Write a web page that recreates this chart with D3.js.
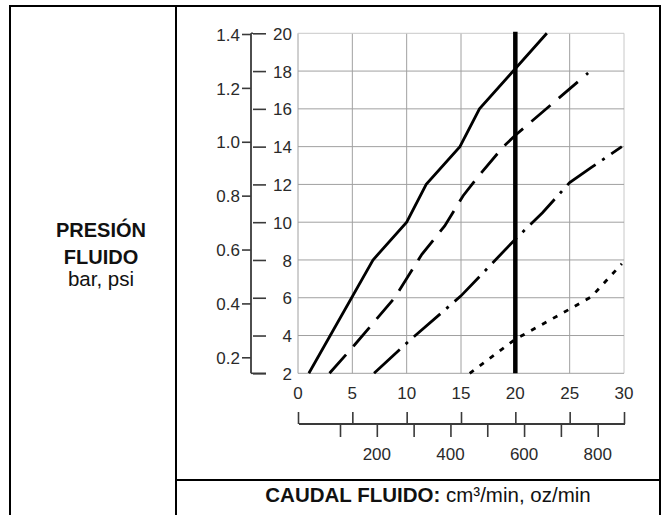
<!DOCTYPE html>
<html><head><meta charset="utf-8">
<script src="https://cdn.jsdelivr.net/npm/d3@7"></script>
<style>body{margin:0;background:#fff}svg{display:block}text{font-family:"Liberation Sans",Arial,Helvetica,sans-serif}</style>
</head><body><svg id="c" width="670" height="515"></svg>
<script>
// ---- data ----
const psiTicks = [2,4,6,8,10,12,14,16,18,20];
const barTicks = [0.2,0.4,0.6,0.8,1.0,1.2,1.4];
const ozTicks = [0,5,10,15,20,25,30];
const ccTicks = [100,200,300,400,500,600,700,800];
const ccLabels = [200,400,600,800];
const markerFlow = 20;
const solidSeries = [[1,2],[6.9,8],[10,10],[11.8,12],[14.9,14],[16.7,16],[22.9,20]];
const dashedSeries = [[2.9,2],[5.2,3.5],[8.9,6],[11.4,8.3],[13.5,9.8],[15.2,11.4],[16.7,12.5],[18.9,14],[20,14.6],[26.7,17.9]];
const dashDotSeries = [[7,2],[10.2,3.7],[15,6.1],[17.5,7.6],[20,9.1],[22.5,10.5],[25,12.1],[27,12.9],[29.8,14]];
const dottedSeries = [[15.8,2],[20,3.8],[25,5.4],[27,6.05],[29.8,7.8]];
const leftTitle = ["PRESIÓN","FLUIDO"];
const leftUnits = "bar, psi";
const bottomTitleBold = "CAUDAL FLUIDO:";
const bottomTitleRest = " cm³/min, oz/min";

// ---- drawing ----
const svg = d3.select("#c");
svg.append("rect").attr("width",670).attr("height",515).attr("fill","#fff");

const x = d3.scaleLinear().domain([0,30]).range([298,624]);
const y = d3.scaleLinear().domain([2,20]).range([373.3,33.3]);
const yBar = d3.scaleLinear().domain([0.2,1.4]).range([357.3,34]);
const cc = d3.scaleLinear().domain([100,800]).range([340,597.7]);
const tickFont = 17;

// frame
const frame = svg.append("g").attr("stroke","#000").attr("stroke-width",2).attr("fill","none");
frame.append("path").attr("d","M10,515 V6 H660 V515");
frame.append("line").attr("x1",176).attr("x2",176).attr("y1",6).attr("y2",515);
frame.append("line").attr("x1",176).attr("x2",660).attr("y1",480).attr("y2",480);

// left cell text
const lt = svg.append("g").attr("fill","#111").attr("text-anchor","middle");
leftTitle.forEach((t,i)=>lt.append("text").attr("x",101).attr("y",236.5+i*27.5)
  .attr("font-size",20).attr("font-weight","bold").text(t));
lt.append("text").attr("x",101).attr("y",286).attr("font-size",20.5).text(leftUnits);

// grid
const grid = svg.append("g").attr("stroke","#a0a0a0").attr("stroke-width",1);
grid.selectAll(".v").data(ozTicks).join("line")
  .attr("x1",d=>x(d)).attr("x2",d=>x(d)).attr("y1",y(2)).attr("y2",y(20))
  .attr("stroke",d=>d===30?"#c8c8c8":"#a0a0a0");
grid.selectAll(".h").data(psiTicks).join("line")
  .attr("x1",x(0)).attr("x2",x(30)).attr("y1",d=>y(d)).attr("y2",d=>y(d))
  .attr("stroke",d=>d===20?"#c8c8c8":"#a0a0a0");

// psi axis (right of the vertical axis line)
const axisX = 251;
const gPsi = svg.append("g").attr("transform",`translate(${axisX+2},0)`)
  .call(d3.axisRight(y).tickValues(psiTicks).tickSize(13).tickFormat(d3.format("d")));
gPsi.select(".domain").remove();
gPsi.selectAll("line").attr("stroke","#3a3a3a").attr("stroke-width",1.6);
gPsi.selectAll("text").attr("x",39).attr("dy","0.36em").attr("text-anchor","end")
  .attr("font-size",tickFont).attr("fill","#2a2a2a").attr("font-family","Liberation Sans, Arial, sans-serif");

// bar axis (left)
const gBar = svg.append("g").attr("transform",`translate(${axisX},0)`)
  .call(d3.axisLeft(yBar).tickValues(barTicks).tickSize(9).tickPadding(2).tickFormat(d3.format(".1f")));
gBar.select(".domain").remove();
gBar.selectAll("line").attr("stroke","#3a3a3a").attr("stroke-width",1.6);
gBar.selectAll("text").attr("dy","0.36em").attr("font-size",tickFont).attr("fill","#2a2a2a")
  .attr("font-family","Liberation Sans, Arial, sans-serif");
svg.append("line").attr("x1",axisX).attr("x2",axisX).attr("y1",y(20)).attr("y2",y(2))
  .attr("stroke","#3a3a3a").attr("stroke-width",1.8);
svg.append("line").attr("x1",axisX).attr("x2",axisX+15).attr("y1",y(2)).attr("y2",y(2))
  .attr("stroke","#3a3a3a").attr("stroke-width",1.6);
svg.append("line").attr("x1",axisX).attr("x2",axisX+2).attr("y1",y(20)).attr("y2",y(20))
  .attr("stroke","#3a3a3a").attr("stroke-width",1.6);

// oz labels above the bottom scale
svg.append("g").selectAll("text").data(ozTicks).join("text")
  .attr("x",d=>x(d)).attr("y",399).attr("text-anchor","middle").attr("font-size",tickFont)
  .attr("fill","#2a2a2a").text(d=>d);

// bottom double scale
const scaleY = 424;
const gOz = svg.append("g").attr("transform",`translate(0,${scaleY})`)
  .call(d3.axisTop(x).tickValues(ozTicks).tickSize(12).tickFormat(""));
gOz.select(".domain").remove();
gOz.selectAll("line").attr("stroke","#3a3a3a").attr("stroke-width",1.6);
svg.append("line").attr("x1",x(0)+1).attr("x2",x(30)+1).attr("y1",scaleY).attr("y2",scaleY)
  .attr("stroke","#3a3a3a").attr("stroke-width",1.8);
const gCc = svg.append("g").attr("transform",`translate(0,${scaleY})`)
  .call(d3.axisBottom(cc).tickValues(ccTicks).tickSize(13).tickFormat(""));
gCc.select(".domain").remove();
gCc.selectAll("line").attr("stroke","#3a3a3a").attr("stroke-width",1.6);
svg.append("g").selectAll("text").data(ccLabels).join("text")
  .attr("x",d=>cc(d)).attr("y",460).attr("text-anchor","middle").attr("font-size",tickFont)
  .attr("fill","#2a2a2a").text(d=>d);

// bottom title
const bt = svg.append("text").attr("x",428).attr("y",502).attr("text-anchor","middle")
  .attr("font-size",20.5).attr("fill","#111");
bt.append("tspan").attr("font-weight","bold").text(bottomTitleBold);
bt.append("tspan").text(bottomTitleRest);

// series
const line = d3.line().x(d=>x(d[0])).y(d=>y(d[1]));
const plot = svg.append("g").attr("fill","none").attr("stroke","#000").attr("stroke-width",2.8);
plot.append("path").datum(solidSeries).attr("d",line);
plot.append("path").datum(dashedSeries).attr("d",line).attr("stroke-dasharray","25,11");
plot.append("path").datum(dashDotSeries).attr("d",line).attr("stroke-dasharray","35,8,3,8");
plot.append("path").datum(dottedSeries).attr("d",line).attr("stroke-dasharray","5,7.5");

// marker line at 20
svg.append("line").attr("x1",x(markerFlow)).attr("x2",x(markerFlow))
  .attr("y1",y(20)-1.5).attr("y2",y(2)).attr("stroke","#000").attr("stroke-width",4.5);
</script></body></html>
